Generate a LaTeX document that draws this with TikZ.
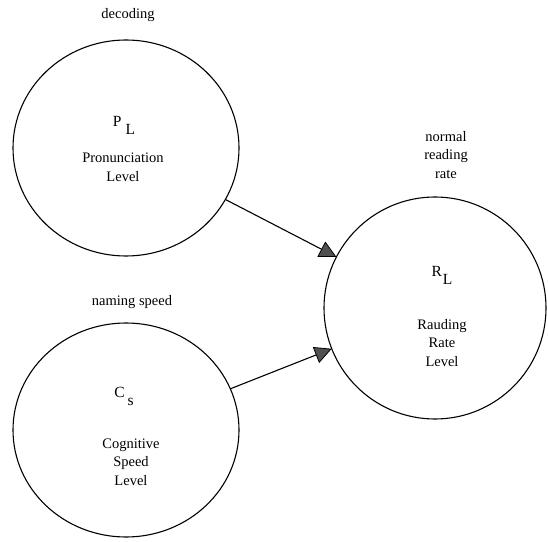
\documentclass[tikz,border=0pt]{standalone}
\usepackage{fontspec}
\setmainfont{Liberation Serif}
\usetikzlibrary{shapes.geometric,arrows.meta}
\tikzset{
  bubble/.style={draw=black, line width=1.1pt, ellipse, inner sep=0pt, outer sep=0pt},
  lbl/.style={font=\fontsize{14.5}{18.5}\selectfont, align=center, inner sep=0pt},
  sym/.style={font=\fontsize{15.5}{16}\selectfont, inner sep=0pt},
  link/.style={draw=black, line width=1.1pt, -{Triangle[length=17pt,width=17pt,fill={rgb,255:red,80;green,80;blue,80},line width=0.8pt]}, shorten >=0pt}
}
\begin{document}
\begin{tikzpicture}[x=1pt,y=1pt]
\useasboundingbox (0,0) rectangle (548,541);
\node[bubble, minimum width=226pt, minimum height=216pt] (c1) at (126,393) {};
\node[bubble, minimum width=222pt, minimum height=222pt] (c2) at (435,233) {};
\node[bubble, minimum width=226pt, minimum height=214pt] (c3) at (126,111) {};
\draw[link] (c1) -- (c2);
\draw[link] (c3) -- (c2);
\node[lbl] (t1) at (128,526) {decoding};
\node[sym] (s1) at (124,416) {P\hspace{4pt}\raisebox{-8pt}{L}};
\node[lbl] (d1) at (123,373.5) {Pronunciation\\Level};
\node[lbl] (t2) at (446,386) {normal\\reading\\rate};
\node[sym] (s2) at (442,266) {R\hspace{1pt}\raisebox{-8pt}{L}};
\node[lbl] (d2) at (442,198) {Rauding\\Rate\\Level};
\node[lbl] (t3) at (132,239) {naming speed};
\node[sym] (s3) at (124,145) {C\hspace{3pt}\raisebox{-8pt}{s}};
\node[lbl] (d3) at (131,79) {Cognitive\\Speed\\Level};
\end{tikzpicture}
\end{document}
